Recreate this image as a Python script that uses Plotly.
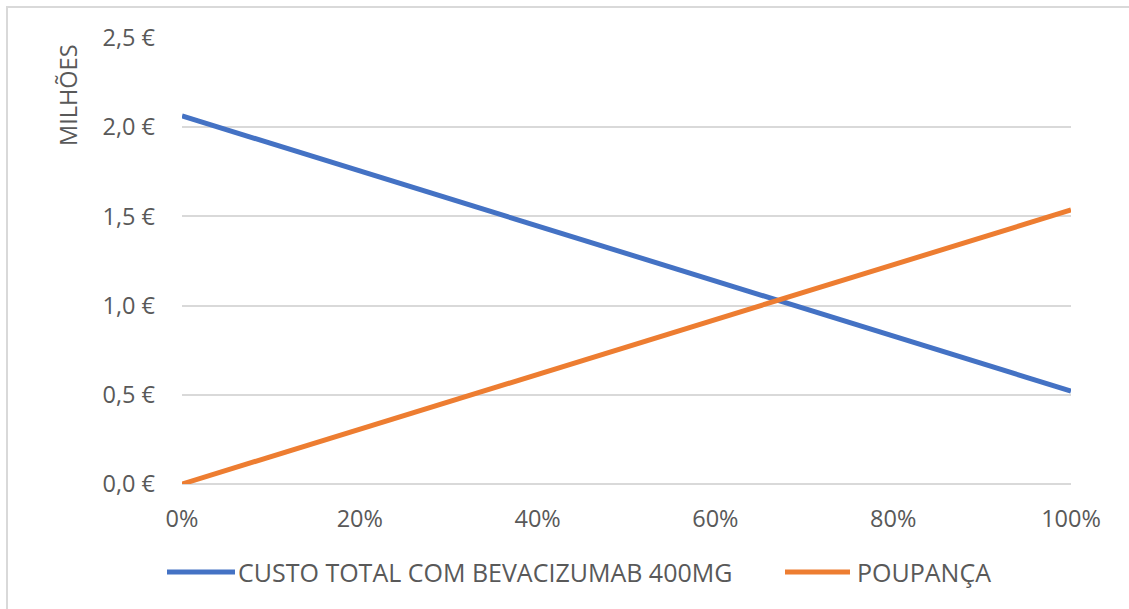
import plotly.graph_objects as go

# Share of patients switched (x) and amounts in millions of euros (y)
share = [0.0, 0.2, 0.4, 0.6, 0.8, 1.0]
custo_total = [2.063, 1.755, 1.446, 1.138, 0.829, 0.521]
poupanca = [0.0, 0.307, 0.614, 0.922, 1.229, 1.536]

series_names = ["CUSTO TOTAL COM BEVACIZUMAB 400MG", "POUPANÇA"]
series_colors = ["#4472C4", "#ED7D31"]

FONT = "Open Sans"
TICK_SIZE = 23.5
LEGEND_SIZE = 25
TEXT_COLOR = "#595959"
GRID_COLOR = "#D9D9D9"

W, H = 1129, 609
L, R, T, B = 182, 58, 38, 125
plot_w = W - L - R
plot_h = H - T - B


def px_x(px):
    return (px - L) / plot_w


def px_y(py):
    return (H - B - py) / plot_h


fig = go.Figure()
for name, values, color in zip(series_names, [custo_total, poupanca], series_colors):
    fig.add_trace(go.Scatter(
        x=share, y=values, mode="lines", name=name,
        line=dict(color=color, width=5),
        showlegend=False,
    ))

# Legend drawn below the plot: line sample followed by the label
legend_items = [
    (167, 235, 236),
    (785, 850, 855),
]
shapes = []
annotations = []
for (x0, x1, xt), name, color in zip(legend_items, series_names, series_colors):
    shapes.append(dict(
        type="line", xref="paper", yref="paper",
        x0=px_x(x0), x1=px_x(x1), y0=px_y(572), y1=px_y(572),
        line=dict(color=color, width=5),
    ))
    annotations.append(dict(
        xref="paper", yref="paper", x=px_x(xt), y=px_y(572),
        xanchor="left", yanchor="middle", showarrow=False,
        text=name, font=dict(family=FONT, size=LEGEND_SIZE, color=TEXT_COLOR),
    ))

# Vertical unit label
annotations.append(dict(
    xref="paper", yref="paper", x=px_x(68), y=px_y(95),
    xanchor="center", yanchor="middle", showarrow=False, textangle=-90,
    text="MILHÕES", font=dict(family=FONT, size=TICK_SIZE, color=TEXT_COLOR),
))

# Chart-area border
shapes.append(dict(
    type="rect", xref="paper", yref="paper", layer="below",
    x0=px_x(7), x1=px_x(1140), y0=px_y(620), y1=px_y(7),
    line=dict(color=GRID_COLOR, width=2), fillcolor="rgba(0,0,0,0)",
))

fig.update_layout(
    width=W, height=H,
    margin=dict(l=L, r=R, t=T, b=B, autoexpand=False),
    paper_bgcolor="white", plot_bgcolor="white",
    separators=",.",
    font=dict(family=FONT, size=TICK_SIZE, color=TEXT_COLOR),
    shapes=shapes, annotations=annotations,
    xaxis=dict(
        range=[0, 1], tickvals=share, tickformat=".0%",
        showgrid=False, zeroline=False, showline=False,
        ticks="", ticklabelstandoff=18,
        tickfont=dict(family=FONT, size=TICK_SIZE, color=TEXT_COLOR),
    ),
    yaxis=dict(
        range=[0, 2.5], dtick=0.5, tickformat=".1f", ticksuffix=" €",
        showgrid=True, gridcolor=GRID_COLOR, gridwidth=2,
        zeroline=True, zerolinecolor=GRID_COLOR, zerolinewidth=2,
        showline=False, ticks="", ticklabelstandoff=26,
        tickfont=dict(family=FONT, size=TICK_SIZE, color=TEXT_COLOR),
    ),
)

fig.write_html("out.html")
